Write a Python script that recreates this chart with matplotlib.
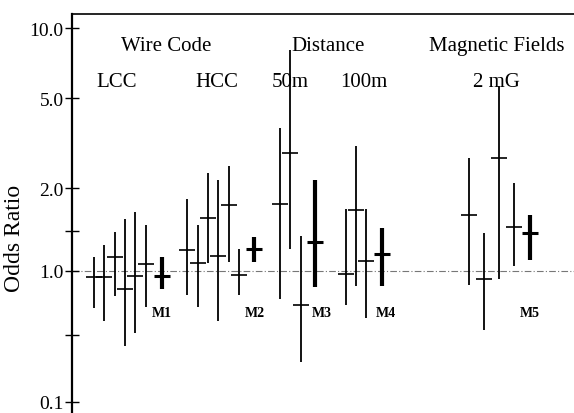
import numpy as np
import matplotlib.pyplot as plt
from matplotlib.ticker import FixedLocator, FixedFormatter

plt.rcParams['font.family'] = ['Liberation Serif', 'DejaVu Serif']

# odds ratios with confidence limits
lcc_or = [0.94, 0.94, 1.12, 0.82, 0.95, 1.06]
lcc_lo = [0.67, 0.58, 0.76, 0.38, 0.51, 0.68]
lcc_hi = [1.12, 1.24, 1.39, 1.54, 1.64, 1.47]

hcc_or = [1.19, 1.07, 1.56, 1.13, 1.74, 0.96]
hcc_lo = [0.77, 0.68, 1.07, 0.58, 1.08, 0.77]
hcc_hi = [1.82, 1.47, 2.33, 2.17, 2.50, 1.20]

d50_or = [1.75, 2.86, 0.69]
d50_lo = [0.74, 1.20, 0.26]
d50_hi = [3.68, 8.04, 1.34]

d100_or = [0.97, 1.66, 1.09]
d100_lo = [0.69, 0.85, 0.60]
d100_hi = [1.68, 3.07, 1.68]

mf_or = [1.60, 0.92, 2.71, 1.44]
mf_lo = [0.86, 0.53, 0.92, 1.04]
mf_hi = [2.71, 1.37, 5.63, 2.10]

# pooled estimates M1..M5
pooled_names = ['M1', 'M2', 'M3', 'M4', 'M5']
pooled_or = [0.95, 1.20, 1.27, 1.15, 1.37]
pooled_lo = [0.82, 1.08, 0.84, 0.85, 1.10]
pooled_hi = [1.12, 1.33, 2.17, 1.43, 1.60]

groups = [(lcc_or, lcc_lo, lcc_hi), (hcc_or, hcc_lo, hcc_hi),
          (d50_or, d50_lo, d50_hi), (d100_or, d100_lo, d100_hi),
          (mf_or, mf_lo, mf_hi)]

# layout of the groups along x
group_start = [2.2, 11.5, 20.7, 27.3, 39.5]
group_step = [1.03, 1.03, 1.03, 1.0, 1.52]
pooled_gap = [1.6, 1.5, 1.4, 1.6, 1.6]
label_dx = [0.0, 0.1, 0.7, 0.4, -0.1]

# the printed axis is not a clean log scale: piecewise log mapping
axis_vals = np.log10([0.0768, 0.1, 0.5, 1.0, 2.0, 5.0, 10.0, 11.5])
axis_pos = np.array([0, 11, 78, 142, 225, 315, 385, 399], dtype=float)


def forward(y):
    y = np.clip(np.asarray(y, dtype=float), 1e-6, None)
    return np.interp(np.log10(y), axis_vals, axis_pos)


def inverse(p):
    return 10 ** np.interp(np.asarray(p, dtype=float), axis_pos, axis_vals)


fig = plt.figure(figsize=(5.74, 4.14), dpi=100)
ax = fig.add_axes([72 / 574, 0.0, 1 - 72 / 574, 1 - 15 / 414])
ax.set_yscale('function', functions=(forward, inverse))
ax.set_ylim(10 ** axis_vals[0], 10 ** axis_vals[-1])
ax.set_xlim(0, 50)

ax.axhline(1.0, color='#777777', lw=0.8, ls=(0, (6, 2, 1, 2)), zorder=1)

for g, (est, lo, hi) in enumerate(groups):
    xs = group_start[g] + group_step[g] * np.arange(len(est))
    est = np.array(est)
    yerr = [est - np.array(lo), np.array(hi) - est]
    ax.errorbar(xs, est, yerr=yerr, fmt='none', ecolor='black',
                elinewidth=1.3, zorder=3)
    ax.plot(xs, est, ls='none', marker='_', ms=11, mew=1.2,
            color='black', zorder=3)

    xp = xs[-1] + pooled_gap[g]
    pe = pooled_or[g]
    ax.errorbar([xp], [pe], yerr=[[pe - pooled_lo[g]], [pooled_hi[g] - pe]],
                fmt='none', ecolor='black', elinewidth=3, zorder=3)
    ax.plot([xp], [pe], ls='none', marker='_', ms=11, mew=2.2,
            color='black', zorder=3)
    ax.text(xp + label_dx[g], 0.64, pooled_names[g], ha='center',
            va='center', fontsize=10, fontweight='bold')

# y axis
ticks = [0.1, 0.5, 1.0, 1.4, 2.0, 5.0, 10.0]
labels = ['0.1', '', '1.0', '', '2.0', '5.0', '10.0']
ax.yaxis.set_major_locator(FixedLocator(ticks))
ax.yaxis.set_major_formatter(FixedFormatter(labels))
ax.yaxis.set_minor_locator(FixedLocator([]))
ax.tick_params(axis='y', direction='inout', length=10, width=1.0,
               labelsize=14, pad=1)
ax.set_xticks([])
ax.set_ylabel('Odds Ratio', fontsize=17)
ax.yaxis.set_label_coords(-0.094, 0.44)

for side in ['right', 'bottom']:
    ax.spines[side].set_visible(False)
ax.spines['left'].set_linewidth(1.6)
ax.spines['top'].set_linewidth(1.2)

# headers
tr = ax.get_xaxis_transform()
headers = [('Wire Code', 9.36, 0.92), ('LCC', 4.4, 0.832), ('HCC', 14.4, 0.832),
           ('Distance', 25.5, 0.92), ('50m', 21.7, 0.832), ('100m', 29.1, 0.832),
           ('Magnetic Fields', 42.3, 0.92), ('2 mG', 42.3, 0.832)]
for txt, hx, hy in headers:
    ax.text(hx, hy, txt, transform=tr, ha='center', va='center', fontsize=15)

fig.savefig('out.png', dpi=100)
